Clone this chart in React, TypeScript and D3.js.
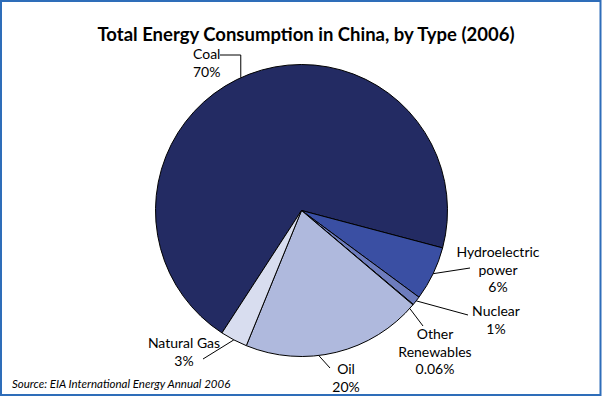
import React, { useRef, useEffect } from 'react';
import * as d3 from 'd3';

// Chart data
const categories = ['Coal', 'Hydroelectric power', 'Nuclear', 'Other Renewables', 'Oil', 'Natural Gas'];
const shares = [70, 6, 1, 0.06, 20, 3];
const shareLabels = ['70%', '6%', '1%', '0.06%', '20%', '3%'];
const colors = ['#232B63', '#3A4FA3', '#6D7CBD', '#8E9BCF', '#AFB9DD', '#D8DDEF'];

// label layout (text lines, anchor point, text-anchor, leader end)
const labelLines = [
  ['Coal', '70%'],
  ['Hydroelectric', 'power', '6%'],
  ['Nuclear', '1%'],
  ['Other', 'Renewables', '0.06%'],
  ['Oil', '20%'],
  ['Natural Gas', '3%'],
];
const labelPos: [number, number, string][] = [
  [193, 59, 'start'],
  [498, 257, 'middle'],
  [496, 316, 'middle'],
  [435, 339, 'middle'],
  [346, 374, 'middle'],
  [184, 348, 'middle'],
];
const leaderEnds: [number, number][] = [
  [220, 55],
  [470, 268],
  [468, 315],
  [423, 326],
  [330, 368],
  [203, 359],
];
// small nudges (degrees) of where each leader meets the pie
const leaderNudge = [-3.5, 0, 0, 2, 7, 0];

const W = 602;
const H = 397;

export default function App() {
  const svgRef = useRef<SVGSVGElement>(null);

  useEffect(() => {
    if (!svgRef.current) return;
    const svg = d3.select(svgRef.current);
    svg.selectAll('*').remove();

    const font = 'Lato, "Open Sans", sans-serif';

    svg.append('rect')
      .attr('x', 0).attr('y', 0).attr('width', W).attr('height', H)
      .attr('fill', '#ffffff');
    svg.append('rect')
      .attr('x', 1).attr('y', 1).attr('width', W - 2.5).attr('height', H - 3)
      .attr('fill', 'none')
      .attr('stroke', '#2E6DB9')
      .attr('stroke-width', 2);

    svg.append('text')
      .attr('x', 306).attr('y', 41)
      .attr('text-anchor', 'middle')
      .attr('font-family', font)
      .attr('font-weight', 'bold')
      .attr('font-size', 18)
      .attr('textLength', 417)
      .attr('lengthAdjust', 'spacingAndGlyphs')
      .attr('fill', '#000')
      .text('Total Energy Consumption in China, by Type (2006)');

    const cx = 301.5, cy = 210.5, r = 146;
    const data = categories.map((c, i) => ({ name: c, value: shares[i], i }));

    const pie = d3.pie<any>()
      .sort(null)
      .value(d => d.value)
      .startAngle((213 * Math.PI) / 180)
      .endAngle((213 * Math.PI) / 180 + 2 * Math.PI);

    const arc = d3.arc<any>().innerRadius(0).outerRadius(r);
    const arcs = pie(data);

    const g = svg.append('g').attr('transform', `translate(${cx},${cy})`);
    g.selectAll('path')
      .data(arcs)
      .enter()
      .append('path')
      .attr('d', arc)
      .attr('fill', d => colors[d.data.i])
      .attr('stroke', '#000')
      .attr('stroke-width', 1)
      .attr('stroke-linejoin', 'round');

    // leader lines
    arcs.forEach((a, i) => {
      const mid = (a.startAngle + a.endAngle) / 2 + (leaderNudge[i] * Math.PI) / 180;
      const px = cx + r * Math.sin(mid);
      const py = cy - r * Math.cos(mid);
      const [ex, ey] = leaderEnds[i];
      const pts = i === 0
        ? [[ex, ey], [px, ey], [px, py]]
        : [[ex, ey], [px, py]];
      svg.append('path')
        .attr('d', d3.line()(pts as [number, number][]))
        .attr('fill', 'none')
        .attr('stroke', '#000')
        .attr('stroke-width', 1);
    });

    // labels
    labelLines.forEach((lines, i) => {
      const [x, y, anchor] = labelPos[i];
      lines.forEach((ln, k) => {
        svg.append('text')
          .attr('x', x)
          .attr('y', y + k * 17.5)
          .attr('text-anchor', anchor)
          .attr('font-family', font)
          .attr('font-size', 14)
          .attr('fill', '#000')
          .text(ln);
      });
    });

    svg.append('text')
      .attr('x', 12).attr('y', 388)
      .attr('font-family', font)
      .attr('font-style', 'italic')
      .attr('font-size', 11.5)
      .attr('fill', '#000')
      .text('Source: EIA International Energy Annual 2006');
  }, []);

  return (
    <div style={{ position: 'absolute', left: 0, top: 0 }}>
      <svg ref={svgRef} width={W} height={H} style={{ display: 'block' }} />
    </div>
  );
}
